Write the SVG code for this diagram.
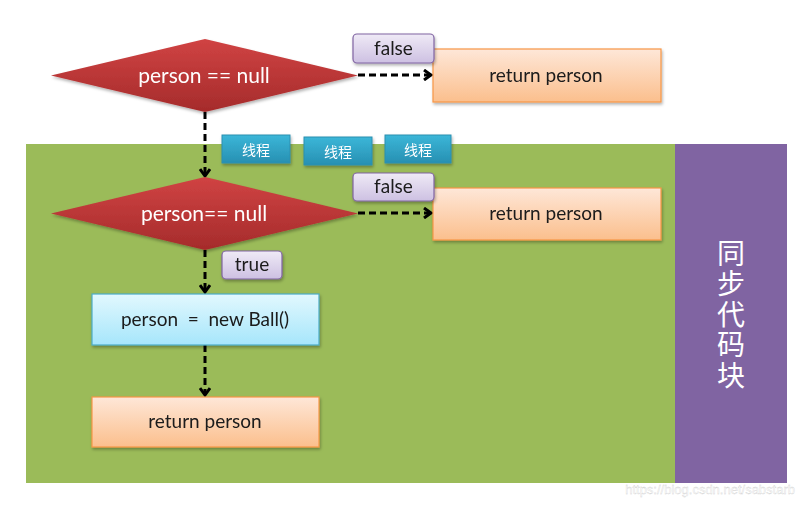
<svg xmlns="http://www.w3.org/2000/svg" width="804" height="505" viewBox="0 0 804 505">
<style>
.t{font-family:Lato,"Open Sans","Liberation Sans",sans-serif;font-size:19px;fill:#1a1a1a;text-anchor:middle;dominant-baseline:central}
.tw{fill:#ffffff;font-size:21px}
.cj{font-family:"Noto Sans CJK SC","Noto Sans",sans-serif;fill:#ffffff;text-anchor:middle;dominant-baseline:central}
.dia{fill:url(#gRed)}
.ret{fill:url(#gOr);stroke:#f79646;stroke-width:1.2}
.lab{fill:url(#gPu);stroke:#8064a2;stroke-width:1.2}
.thr{fill:url(#gTeal);stroke:#2c8fb0;stroke-width:1}
.con{stroke:#000;stroke-width:3;stroke-dasharray:7 4;fill:none;marker-end:url(#ah)}
</style>
<defs>
<linearGradient id="gRed" x1="0" y1="0" x2="0" y2="1"><stop offset="0" stop-color="#d04343"/><stop offset="1" stop-color="#a52b2b"/></linearGradient>
<linearGradient id="gOr" x1="0" y1="0" x2="0" y2="1"><stop offset="0" stop-color="#fee7d8"/><stop offset="1" stop-color="#fbbf8d"/></linearGradient>
<linearGradient id="gPu" x1="0" y1="0" x2="0" y2="1"><stop offset="0" stop-color="#efeaf6"/><stop offset="1" stop-color="#cdc0e2"/></linearGradient>
<linearGradient id="gTeal" x1="0" y1="0" x2="0" y2="1"><stop offset="0" stop-color="#3bb6d8"/><stop offset="1" stop-color="#2790b2"/></linearGradient>
<linearGradient id="gBlue" x1="0" y1="0" x2="0" y2="1"><stop offset="0" stop-color="#e2f8fe"/><stop offset="1" stop-color="#a6e6fb"/></linearGradient>
<marker id="ah" markerWidth="12" markerHeight="12" refX="9" refY="6" orient="auto" markerUnits="userSpaceOnUse"><path d="M2,1 L9,6 L2,11" fill="none" stroke="#000" stroke-width="3"/></marker>
<filter id="sh" x="-10%" y="-10%" width="130%" height="140%"><feDropShadow dx="1" dy="2" stdDeviation="1.5" flood-color="#000" flood-opacity="0.3"/></filter>
</defs>
<rect x="0" y="0" width="804" height="505" fill="#ffffff"/>
<g id="sync-area">
<rect x="26" y="144" width="649" height="339" fill="#9bbb59"/>
<rect x="675" y="144" width="112" height="339" fill="#8064a2"/>
<text font-family="'Noto Sans CJK SC','Noto Sans',sans-serif" fill="#ffffff" font-size="28" writing-mode="vertical-rl" letter-spacing="2.5" x="731" y="239">同步代码块</text>
</g>
<g id="connectors">
<line class="con" x1="358" y1="75" x2="431" y2="75"/>
<line class="con" x1="205" y1="112" x2="205" y2="176"/>
<line class="con" x1="358" y1="213" x2="431" y2="213"/>
<line class="con" x1="205" y1="250" x2="205" y2="292"/>
<line class="con" x1="205" y1="345" x2="205" y2="395"/>
</g>
<g id="decision1" filter="url(#sh)">
<polygon class="dia" points="51,75.5 205,39 358,75.5 205,112"/>
<text class="t tw" x="204" y="74">person == null</text>
</g>
<g id="return1" filter="url(#sh)">
<rect class="ret" x="433" y="49" width="228" height="53"/>
<text class="t" x="546" y="74.5">return person</text>
</g>
<g id="false1" filter="url(#sh)">
<rect class="lab" x="353" y="34" width="81" height="29" rx="4"/>
<text class="t" x="393.5" y="47">false</text>
</g>
<g id="thread1" filter="url(#sh)">
<rect class="thr" x="222" y="135" width="68" height="28"/>
<text class="cj" font-size="14" x="256" y="149">线程</text>
</g>
<g id="thread2" filter="url(#sh)">
<rect class="thr" x="304" y="137" width="68" height="28"/>
<text class="cj" font-size="14" x="338" y="151">线程</text>
</g>
<g id="thread3" filter="url(#sh)">
<rect class="thr" x="385" y="135" width="66" height="28"/>
<text class="cj" font-size="14" x="418" y="149">线程</text>
</g>
<g id="decision2" filter="url(#sh)">
<polygon class="dia" points="51,213.5 205,177 358,213.5 205,250"/>
<text class="t tw" x="204" y="212">person== null</text>
</g>
<g id="return2" filter="url(#sh)">
<rect class="ret" x="433" y="188" width="228" height="52"/>
<text class="t" x="546" y="212.5">return person</text>
</g>
<g id="false2" filter="url(#sh)">
<rect class="lab" x="353" y="173" width="81" height="28" rx="4"/>
<text class="t" x="393.5" y="185.5">false</text>
</g>
<g id="true1" filter="url(#sh)">
<rect class="lab" x="222" y="251" width="60" height="28" rx="4"/>
<text class="t" x="252" y="263.5">true</text>
</g>
<g id="assign" filter="url(#sh)">
<rect x="92" y="294" width="227" height="51" fill="url(#gBlue)" stroke="#4bacc6" stroke-width="1.2"/>
<text class="t" x="205" y="318.5" xml:space="preserve">person  =  new Ball()</text>
</g>
<g id="return3" filter="url(#sh)">
<rect class="ret" x="92" y="397" width="227" height="50"/>
<text class="t" x="205" y="420.5">return person</text>
</g>
<text x="795" y="489" font-family="'Liberation Sans',Arial,sans-serif" font-size="13" fill="#ffffff" fill-opacity="0.75" stroke="#cccccc" stroke-width="0.3" text-anchor="end" dominant-baseline="central">https://blog.csdn.net/sabstarb</text>
</svg>
